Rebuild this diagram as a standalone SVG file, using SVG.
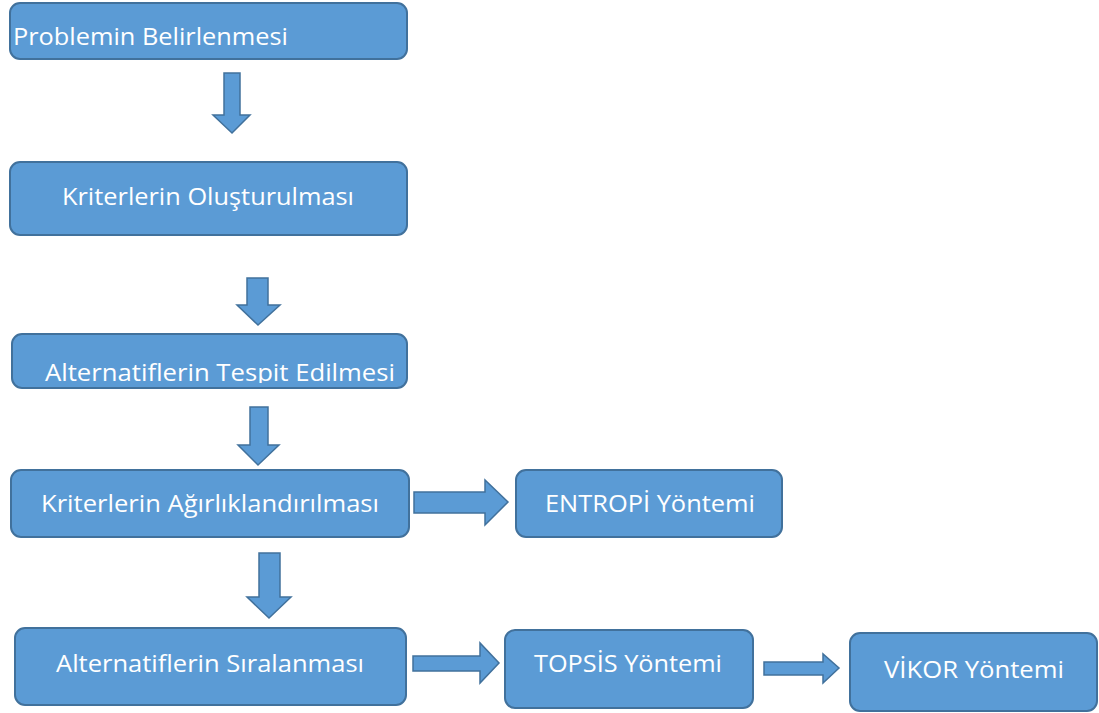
<svg xmlns="http://www.w3.org/2000/svg" width="1099" height="713" viewBox="0 0 1099 713">
<style>
.box{fill:#5B9BD5;stroke:#41719C;stroke-width:2}
.arr{fill:#5B9BD5;stroke:#41719C;stroke-width:1.5;stroke-linejoin:miter}
text{font-family:"Open Sans","Noto Sans","DejaVu Sans",sans-serif;font-size:24px;fill:#FFFFFF}
</style>
<defs>
<clipPath id="c3"><rect x="12" y="334" width="395" height="49"/></clipPath>
</defs>
<rect width="1099" height="713" fill="#FFFFFF"/>
<g id="connectors">
<polygon class="arr" points="224,73 240,73 240,115 250,115 232,133 213,115 224,115"/>
<polygon class="arr" points="247,278 268,278 268,305 280,305 258,325 237,305 247,305"/>
<polygon class="arr" points="250,407 268,407 268,445 279,445 258,465 238,445 250,445"/>
<polygon class="arr" points="414,492 485,492 485,480 508,502 485,525 485,513 414,513"/>
<polygon class="arr" points="259,553 280,553 280,597 291,597 269,618 247,597 259,597"/>
<polygon class="arr" points="413,656 480,656 480,643 499,663 480,683 480,671 413,671"/>
<polygon class="arr" points="764,662 823,662 823,654 839,668 823,683 823,675 764,675"/>
</g>
<g id="n1"><rect class="box" x="10" y="3" width="397" height="56" rx="10"/>
<text x="13" y="45" textLength="275" lengthAdjust="spacingAndGlyphs">Problemin Belirlenmesi</text></g>
<g id="n2"><rect class="box" x="10" y="162" width="397" height="73" rx="10"/>
<text x="62" y="205" textLength="292" lengthAdjust="spacingAndGlyphs">Kriterlerin Oluşturulması</text></g>
<g id="n3"><rect class="box" x="12" y="334" width="395" height="54" rx="10"/>
<text x="45" y="381" textLength="350" lengthAdjust="spacingAndGlyphs" clip-path="url(#c3)">Alternatiflerin Tespit Edilmesi</text></g>
<g id="n4"><rect class="box" x="11" y="470" width="398" height="67" rx="10"/>
<text x="41" y="512" textLength="338" lengthAdjust="spacingAndGlyphs">Kriterlerin Ağırlıklandırılması</text></g>
<g id="n5"><rect class="box" x="516" y="470" width="266" height="67" rx="10"/>
<text x="545" y="512" textLength="210" lengthAdjust="spacingAndGlyphs">ENTROPİ Yöntemi</text></g>
<g id="n6"><rect class="box" x="15" y="628" width="391" height="77" rx="10"/>
<text x="56" y="672" textLength="308" lengthAdjust="spacingAndGlyphs">Alternatiflerin Sıralanması</text></g>
<g id="n7"><rect class="box" x="505" y="630" width="248" height="78" rx="10"/>
<text x="534" y="672" textLength="188" lengthAdjust="spacingAndGlyphs">TOPSİS Yöntemi</text></g>
<g id="n8"><rect class="box" x="850" y="633" width="247" height="78" rx="10"/>
<text x="884" y="678" textLength="180" lengthAdjust="spacingAndGlyphs">VİKOR Yöntemi</text></g>
</svg>
